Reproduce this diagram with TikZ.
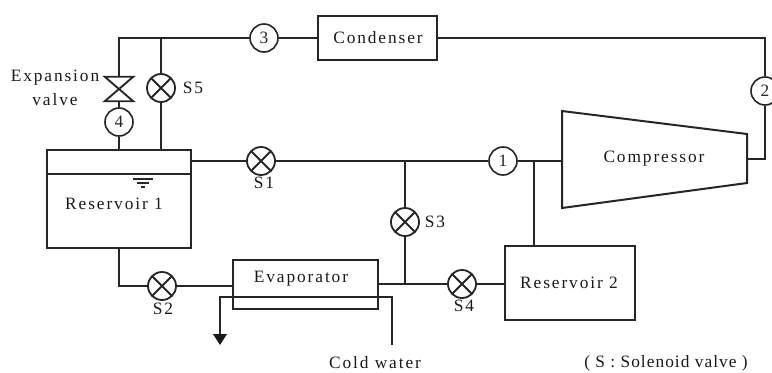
\documentclass[tikz,border=0pt]{standalone}
\usepackage{fontspec}
\setmainfont[LetterSpace=11]{Liberation Serif}
\newfontfamily\tightfont[LetterSpace=6]{Liberation Serif}
\usetikzlibrary{arrows.meta,calc}
\tikzset{
  pipe/.style={line width=1.35pt,black!85},
  box/.style={draw,line width=1.45pt,black!85,rectangle,inner sep=0pt},
  state/.style={draw,line width=1.2pt,black!85,circle,fill=white,minimum size=21pt,inner sep=0pt,font=\fontsize{13}{14}\selectfont},
  solenoid/.style={draw,line width=1.35pt,black!85,circle,minimum size=21pt,inner sep=0pt,
    path picture={\draw[line width=1.35pt,black!85]
      ($(path picture bounding box.center)+(-7.6pt,-7.6pt)$)--($(path picture bounding box.center)+(7.6pt,7.6pt)$)
      ($(path picture bounding box.center)+(-7.6pt,7.6pt)$)--($(path picture bounding box.center)+(7.6pt,-7.6pt)$);}},
  lbl/.style={inner sep=0pt,text=black!90,text height=8.5pt,text depth=0pt,font=\fontsize{13}{14}\selectfont}
}
\begin{document}
\begin{tikzpicture}[x=0.75pt,y=-0.75pt]
\useasboundingbox (0,0) rectangle (772,372);
% equipment
\node[box,minimum width=89.25pt,minimum height=33pt] (cond) at (377.5,38) {};
\node[lbl] at (378,38) {Condenser};
\node[box,minimum width=108pt,minimum height=73.5pt] (res1) at (119,199) {};
\draw[line width=1.45pt,black!85] (res1.west |- 0,174) -- (res1.east |- 0,174);
\node[lbl] at (114,204) {Reservoir 1};
\node[box,minimum width=97.5pt,minimum height=55.5pt] (res2) at (570,283) {};
\node[lbl] at (569,283) {Reservoir 2};
\node[box,minimum width=108.75pt,minimum height=36.75pt] (evap) at (305.5,284.5) {};
\node[lbl] at (301,277) {Evaporator};
% compressor
\coordinate (c1) at (562,111);
\coordinate (c2) at (747,134);
\coordinate (c3) at (747,183);
\coordinate (c4) at (562,208);
\draw[line width=1.5pt,black!85] (c1)--(c2)--(c3)--(c4)--cycle;
\node[lbl] (comp) at (654,157) {Compressor};
% state points
\node[state] (p1) at (503,161) {1};
\node[state] (p2) at (765,91) {2};
\node[state] (p3) at (264,38) {3};
\node[state] (p4) at (119,122) {4};
% solenoid valves
\node[solenoid] (s1) at (261,161) {};
\node[solenoid] (s2) at (162,286) {};
\node[solenoid] (s3) at (405,222) {};
\node[solenoid] (s4) at (462,284) {};
\node[solenoid] (s5) at (161,88) {};
\node[lbl] at (264,183) {S1};
\node[lbl] at (163,309) {S2};
\node[lbl] at (435,222) {S3};
\node[lbl] at (464,306) {S4};
\node[lbl] at (193,88) {S5};
% expansion valve
\node[minimum width=21pt,minimum height=18pt,inner sep=0pt] (ev) at (119,89) {};
\draw[line width=1.4pt,black!85] (ev.north west)--(ev.north east)--(ev.south west)--(ev.south east)--cycle;
\node[lbl] at (55,76) {Expansion};
\node[lbl] at (55,100) {valve};
% water level
\coordinate (lv) at (143,179);
\draw[line width=1.1pt,black!85] ($(lv)+(-10,0)$)--($(lv)+(10,0)$);
\draw[line width=.9pt,black!85] ($(lv)+(-6,4)$)--($(lv)+(6,4)$);
\draw[line width=.9pt,black!85] ($(lv)+(-2,8)$)--($(lv)+(2,8)$);
% junctions and bends
\coordinate (tl) at (119,38);
\coordinate (tm) at (161,38);
\coordinate (tr) at (765,38);
\coordinate (j3) at (405,161);
\coordinate (j4) at (405,284);
\coordinate (j1) at (534,161);
\coordinate (b2) at (765,159);
\coordinate (b5) at (119,286);
\coordinate (w1) at (392,297);
\coordinate (w2) at (392,345);
\coordinate (w3) at (220,297);
\coordinate (w4) at (220,345);
% piping
\draw[pipe] (p3) -- (cond.west);
\draw[pipe] (p3) -- (tl) -- (ev.north -| tl);
\draw[pipe] (ev.south) -- (p4);
\draw[pipe] (p4) -- (p4 |- res1.north);
\draw[pipe] (tm) -- (s5);
\draw[pipe] (s5) -- (s5 |- res1.north);
\draw[pipe] (cond.east) -- (tr) -- (p2);
\draw[pipe] (p2) -- (b2) -- (c2 |- b2);
\draw[pipe] (s1 -| res1.east) -- (s1);
\draw[pipe] (s1) -- (p1);
\draw[pipe] (p1) -- (c1 |- p1);
\draw[pipe] (j1) -- (j1 |- res2.north);
\draw[pipe] (j3) -- (s3);
\draw[pipe] (s3) -- (j4);
\draw[pipe] (evap.east |- j4) -- (s4);
\draw[pipe] (s4) -- (res2.west |- s4);
\draw[pipe] (b5 |- res1.south) -- (b5) -- (s2);
\draw[pipe] (s2) -- (evap.west |- s2);
\draw[pipe] (w2) -- (w1) -- (w3) -- (220,334);
\fill[black!90] (213,334) -- (227,334) -- (w4) -- cycle;
\node[lbl] at (375,363) {Cold water};
\node[lbl,font=\tightfont\fontsize{13}{14}\selectfont] at (666,362) {( S : Solenoid valve )};
\end{tikzpicture}
\end{document}
